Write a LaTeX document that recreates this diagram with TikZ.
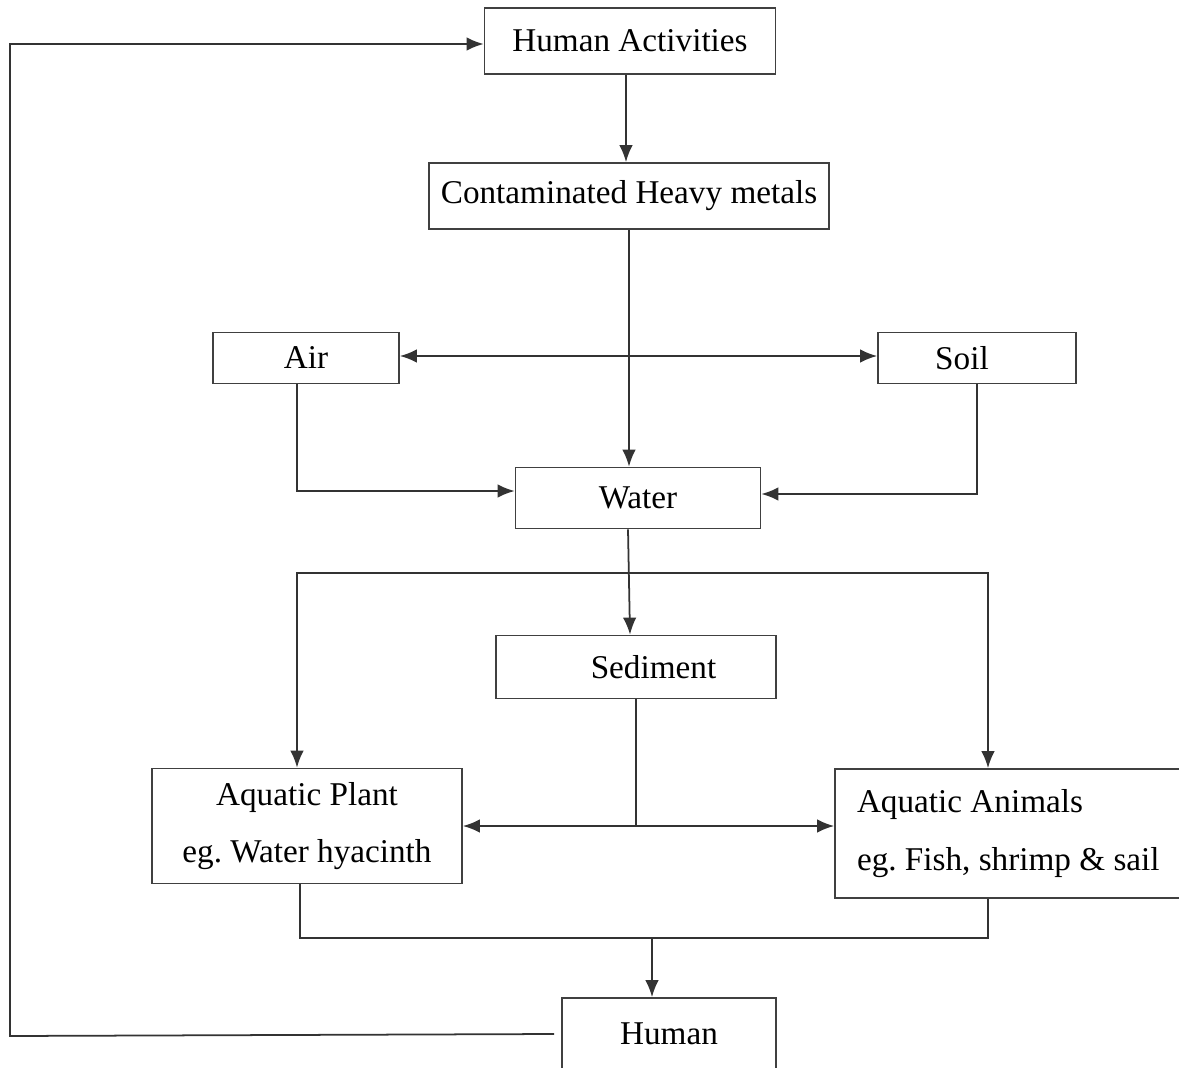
\documentclass[tikz,border=0pt]{standalone}
\usepackage{fontspec}
\setmainfont{Liberation Serif}
\usepackage{tikz}
\usetikzlibrary{arrows.meta,positioning,calc}

\begin{document}
\frenchspacing
\begin{tikzpicture}[
			every node/.style = {font=\fontsize{18.9}{22.7}\selectfont},
			box/.style = {draw=black!75, line width=1pt, inner sep=0pt},
			line/.style = {draw=black!80, line width=1pt},
			arr/.style = {line, -{Latex[length=0.34cm,width=0.27cm]}},
			arrboth/.style = {line, {Latex[length=0.34cm,width=0.27cm]}-{Latex[length=0.34cm,width=0.27cm]}}
			]

			\useasboundingbox (0,0) rectangle (23.58,-21.36);

			% boxes
			\node[box, minimum width=5.82cm, minimum height=1.32cm] (acts) at (12.6,-0.82) {Human Activities};
			\node[box, minimum width=8cm, minimum height=1.32cm] (metals) at (12.58,-3.92) {Contaminated Heavy metals};
			\node[box, minimum width=3.72cm, minimum height=1.02cm] (air) at (6.12,-7.16) {Air};
			\node[box, minimum width=3.96cm, minimum height=1.02cm] (soil) at (19.54,-7.16) {\hspace*{-0.6cm}Soil};
			\node[box, minimum width=4.9cm, minimum height=1.22cm] (water) at (12.76,-9.96) {Water};
			\node[box, minimum width=5.6cm, minimum height=1.26cm] (sediment) at (12.72,-13.34) {\hspace*{0.7cm}Sediment};
			\node[box, minimum width=6.2cm, minimum height=2.3cm, align=center] (plant) at (6.14,-16.52)
				{Aquatic Plant\\[10pt]eg. Water hyacinth};
			\node[box, minimum width=6.94cm, minimum height=2.58cm, align=flush left, text width=6.06cm] (animals) at (20.17,-16.67)
				{Aquatic Animals\\[10pt]eg. Fish, shrimp \& sail};
			\node[box, minimum width=4.28cm, minimum height=1.44cm] (human) at (13.38,-20.68) {Human};

			% junction points
			\coordinate (split) at (12.58,-11.46);
			\coordinate (hub) at (sediment.south |- plant.east);
			\coordinate (join) at (13.04,-18.76);
			\coordinate (corner) at (0.2,-20.72);

			% connectors
			\draw[arr] ([xshift=-0.08cm]acts.south) -- ([xshift=-0.08cm]acts.south |- metals.north);
			\draw[arr] (metals.south) -- (metals.south |- water.north);
			\draw[arrboth] ([yshift=0.04cm]air.east) -- ([yshift=0.04cm]soil.west);
			\draw[arr] ([xshift=-0.18cm]air.south) |- ([yshift=0.14cm]water.west);
			\draw[arr] (soil.south) |- ([yshift=0.08cm]water.east);
			\draw[arr] ([xshift=-0.2cm]water.south) -- ([xshift=-0.12cm]sediment.north);
			\draw[arr] (split) -| ([xshift=-0.2cm]plant.north);
			\draw[arr] (split) -| ([xshift=-0.41cm]animals.north);
			\draw[line] (sediment.south) -- (hub);
			\draw[arr] (hub) -- (plant.east);
			\draw[arr] (hub) -- (hub -| animals.west);
			\draw[line] ([xshift=-0.14cm]plant.south) |- (join) -| ([xshift=-0.41cm]animals.south);
			\draw[arr] (join) -- (join |- human.north);
			\draw[arr] ([xshift=-0.14cm]human.west) -- (corner) |- ([yshift=-0.06cm]acts.west);

		\end{tikzpicture}
\end{document}
